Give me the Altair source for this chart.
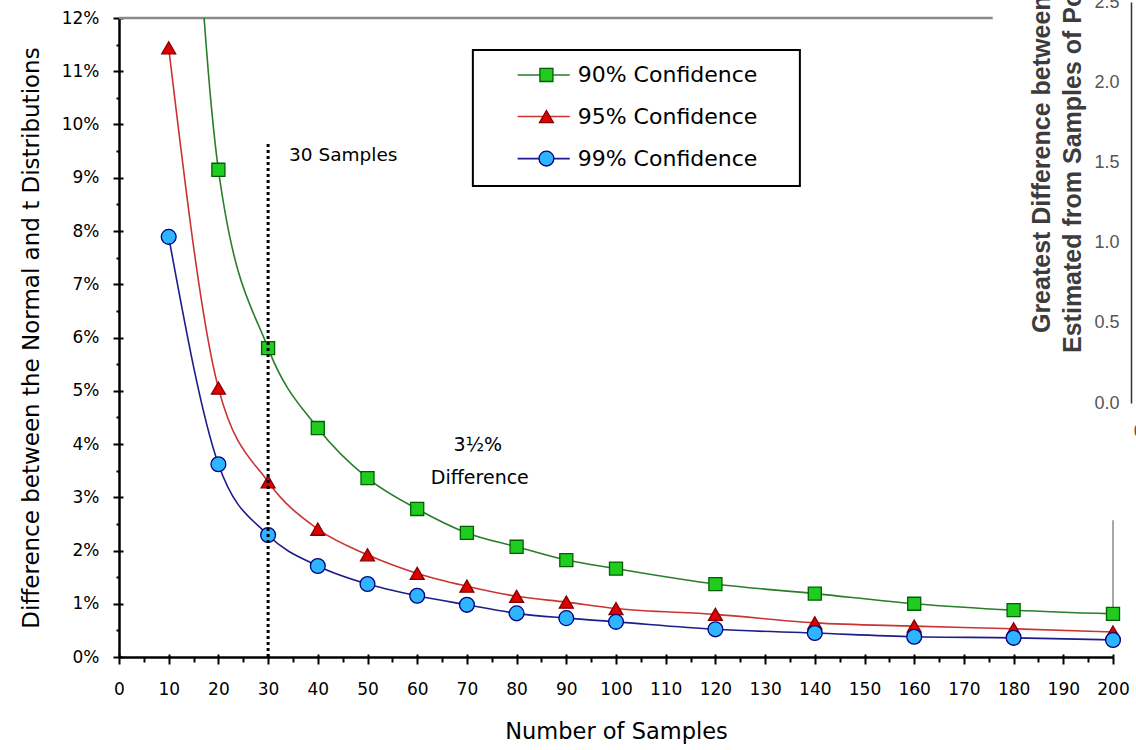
import altair as alt
import pandas as pd

# Sample sizes and the gap (in %) between the normal and t critical values
sample_sizes = [10, 20, 30, 40, 50, 60, 70, 80, 90, 100, 120, 140, 160, 180, 200]
conf_90 = [24.0, 9.15, 5.80, 4.30, 3.36, 2.78, 2.33, 2.07, 1.82, 1.66, 1.37, 1.19, 1.00, 0.88, 0.81]
conf_95 = [11.44, 5.05, 3.29, 2.40, 1.92, 1.57, 1.33, 1.14, 1.03, 0.91, 0.80, 0.64, 0.58, 0.53, 0.47]
conf_99 = [7.89, 3.62, 2.29, 1.71, 1.37, 1.15, 0.98, 0.82, 0.73, 0.66, 0.52, 0.45, 0.38, 0.36, 0.32]

series_names = ["90% Confidence", "95% Confidence", "99% Confidence"]
line_colors = ["#2a7d2a", "#cc3333", "#1c1c8a"]
fill_colors = ["#1fcc1f", "#e00000", "#2fb4ff"]
edge_colors = ["#006000", "#800000", "#000080"]
marker_shapes = ["square", "triangle-up", "circle"]
marker_sizes = [170, 220, 210]

x_tick_values = list(range(0, 201, 5))
y_tick_values = [v / 2 for v in range(0, 25)]

# Neighbouring panel whose axis shows at the right edge
right_tick_values = [0.0, 0.5, 1.0, 1.5, 2.0, 2.5]
right_title_lines = [
    "Greatest Difference between Population Mean and Mean",
    "Estimated from Samples of Population",
]

records = []
for name, values in zip(series_names, (conf_90, conf_95, conf_99)):
    for n, v in zip(sample_sizes, values):
        records.append({"series": name, "n": n, "diff": v})
data = pd.DataFrame(records)

W, H = 994, 639
FONT = "DejaVu Sans"
SIDE_FONT = "Liberation Sans"

xs = alt.Scale(domain=[0, 200], nice=False, zero=False)
ys = alt.Scale(domain=[0, 12], nice=False)

is_major_x = "datum.value % 10 === 0"
is_major_y = "datum.value % 1 === 0"

x_axis = alt.Axis(
    values=x_tick_values,
    labelExpr=f"{is_major_x} ? datum.label : ''",
    tickSize={"condition": {"test": is_major_x, "value": 7}, "value": 5},
    tickWidth=2, tickColor="black", domainColor="black", domainWidth=2.5,
    labelFont=FONT, labelFontSize=17, labelColor="black", labelPadding=17,
    labelFlush=False, labelOverlap=False, grid=False,
    title="Number of Samples", titleFont=FONT, titleFontSize=22.5,
    titleFontWeight="normal", titleColor="black", titlePadding=23,
)
y_axis = alt.Axis(
    values=y_tick_values,
    labelExpr=f"{is_major_y} ? datum.value + '%' : ''",
    tickSize={"condition": {"test": is_major_y, "value": 6}, "value": 3},
    tickWidth=2, tickColor="black", domainColor="black", domainWidth=2.5,
    labelFont=FONT, labelFontSize=17, labelColor="black", labelPadding=14,
    labelOverlap=False, grid=False,
    title="Difference between the Normal and t Distributions", titleFont=FONT,
    titleFontSize=23, titleFontWeight="normal", titleColor="black", titlePadding=18,
)


def X(field="n"):
    return alt.X(f"{field}:Q", scale=xs, axis=x_axis)


def Y(field="diff"):
    return alt.Y(f"{field}:Q", scale=ys, axis=y_axis)


color_enc = alt.Color("series:N", scale=alt.Scale(domain=series_names, range=line_colors), legend=None)
fill_enc = alt.Fill("series:N", scale=alt.Scale(domain=series_names, range=fill_colors), legend=None)
stroke_enc = alt.Stroke("series:N", scale=alt.Scale(domain=series_names, range=edge_colors), legend=None)
shape_enc = alt.Shape("series:N", scale=alt.Scale(domain=series_names, range=marker_shapes), legend=None)
size_enc = alt.Size("series:N", scale=alt.Scale(domain=series_names, range=marker_sizes), legend=None)

lines = alt.Chart(data).mark_line(interpolate="monotone", strokeWidth=1.6, clip=True).encode(
    x=X(), y=Y(), color=color_enc
)
points = alt.Chart(data).transform_filter("datum.diff <= 12").mark_point(
    filled=True, opacity=1, strokeWidth=1.3
).encode(x=X(), y=Y(), fill=fill_enc, stroke=stroke_enc, shape=shape_enc, size=size_enc)

# 30-sample marker line
marker30 = pd.DataFrame({"n": [30], "diff": [0], "diff2": [9.65]})
marker_rule = alt.Chart(marker30).mark_rule(color="black", strokeWidth=3, strokeDash=[3, 3]).encode(
    x=X(), y=Y(), y2="diff2"
)

# Frame remnants: grey top edge and grey vertical stub at n = 200
top_edge = alt.Chart(pd.DataFrame({"n": [0], "n2": [175.8], "diff": [12]})).mark_rule(
    color="#8a8a8a", strokeWidth=2.5
).encode(x=X(), x2="n2", y=Y())
side_stub = alt.Chart(pd.DataFrame({"n": [200], "diff": [2.57], "diff2": [0.85]})).mark_rule(
    color="#8a8a8a", strokeWidth=1.5
).encode(x=X(), y=Y(), y2="diff2")

# Annotations
note_left = alt.Chart(pd.DataFrame({"n": [34.2], "diff": [9.43], "label": ["30 Samples"]})).mark_text(
    align="left", baseline="middle", font=FONT, fontSize=18.5, color="black"
).encode(x=X(), y=Y(), text="label:N")
note_center = alt.Chart(pd.DataFrame({"n": [72.2, 72.6], "diff": [3.98, 3.36], "label": ["3½%", "Difference"]})).mark_text(
    align="center", baseline="middle", font=FONT, fontSize=19, color="black"
).encode(x=X(), y=Y(), text="label:N")

# Boxed legend inside the plot
legend_rows = [10.93, 10.15, 9.36]
legend_box = alt.Chart(pd.DataFrame({"n": [71.2], "n2": [137.0], "diff": [11.40], "diff2": [8.845]})).mark_rect(
    fill="white", stroke="black", strokeWidth=2
).encode(x=X(), x2="n2", y=Y(), y2="diff2")
legend_lines = alt.Chart(pd.DataFrame({"series": series_names, "n": 80.2, "n2": 90.7, "diff": legend_rows})).mark_rule(
    strokeWidth=1.6
).encode(x=X(), x2="n2", y=Y(), color=color_enc)
legend_marks = alt.Chart(pd.DataFrame({"series": series_names, "n": 86.0, "diff": legend_rows})).mark_point(
    filled=True, opacity=1, strokeWidth=1.3
).encode(x=X(), y=Y(), fill=fill_enc, stroke=stroke_enc, shape=shape_enc, size=size_enc)
legend_text = alt.Chart(pd.DataFrame({"series": series_names, "n": 92.3, "diff": legend_rows})).mark_text(
    align="left", baseline="middle", font=FONT, fontSize=22, color="black"
).encode(x=X(), y=Y(), text="series:N")

main = alt.layer(
    top_edge, side_stub, lines, points, marker_rule, note_left, note_center,
    legend_box, legend_lines, legend_marks, legend_text,
)

# Inward halves of the major ticks
tick_frame = pd.DataFrame({"n": [0, 200], "diff": [0, 12]})
inner_ticks = alt.Chart(tick_frame).mark_point(opacity=0).encode(
    x=alt.X("n:Q", scale=alt.Scale(domain=[0, 200], nice=False, zero=False), axis=alt.Axis(
        orient="top", offset=-H, values=list(range(0, 201, 10)), labels=False, domain=False,
        tickSize=3, tickWidth=2, tickColor="black", title=None, grid=False)),
    y=alt.Y("diff:Q", scale=alt.Scale(domain=[0, 12], nice=False), axis=alt.Axis(
        orient="right", offset=-W, values=list(range(0, 13)), labels=False, domain=False,
        tickSize=4, tickWidth=2, tickColor="black", title=None, grid=False)),
)

# Neighbouring panel's value axis
side_scale_y = alt.Scale(domain=[0, 2.5], range=[385, -16], nice=False)
side_scale_x = alt.Scale(domain=[0, 200], nice=False, zero=False)
side_axis = alt.Axis(
    orient="left", offset=-1012, values=right_tick_values, format=".1f",
    labelFont=SIDE_FONT, labelFontSize=18, labelColor="#555555", labelPadding=12,
    ticks=False, domainColor="#333333", domainWidth=1.5, title=None, grid=False,
)
side_base = alt.Chart(pd.DataFrame({"m": [0, 0], "v": [0, 2.5]})).mark_point(opacity=0).encode(
    x=alt.X("m:Q", scale=side_scale_x, axis=None),
    y=alt.Y("v:Q", scale=side_scale_y, axis=side_axis),
)
side_titles = alt.Chart(pd.DataFrame({"m": [185.7, 191.9], "v": [0.436, 0.312], "label": right_title_lines})).mark_text(
    angle=270, align="left", baseline="middle", font=SIDE_FONT, fontSize=25, fontWeight="bold", color="#3c3c3c"
).encode(
    x=alt.X("m:Q", scale=side_scale_x, axis=None),
    y=alt.Y("v:Q", scale=side_scale_y, axis=side_axis),
    text="label:N",
)
side_zero = alt.Chart(pd.DataFrame({"m": [205.2], "v": [-0.18], "label": ["0"]})).mark_text(
    align="center", baseline="middle", font=SIDE_FONT, fontSize=18, color="#555555"
).encode(
    x=alt.X("m:Q", scale=side_scale_x, axis=None),
    y=alt.Y("v:Q", scale=side_scale_y, axis=side_axis),
    text="label:N",
)
side = alt.layer(side_base, side_titles, side_zero)

chart = alt.layer(main, inner_ticks, side).resolve_scale(
    x="independent", y="independent"
).properties(
    width=W, height=H,
    padding={"left": 119, "top": 18, "right": 23, "bottom": 93},
    autosize=alt.AutoSizeParams(type="none"),
    background="white",
).configure_view(stroke=None)

chart.save("out.html", embed_options={"renderer": "svg", "actions": False})
